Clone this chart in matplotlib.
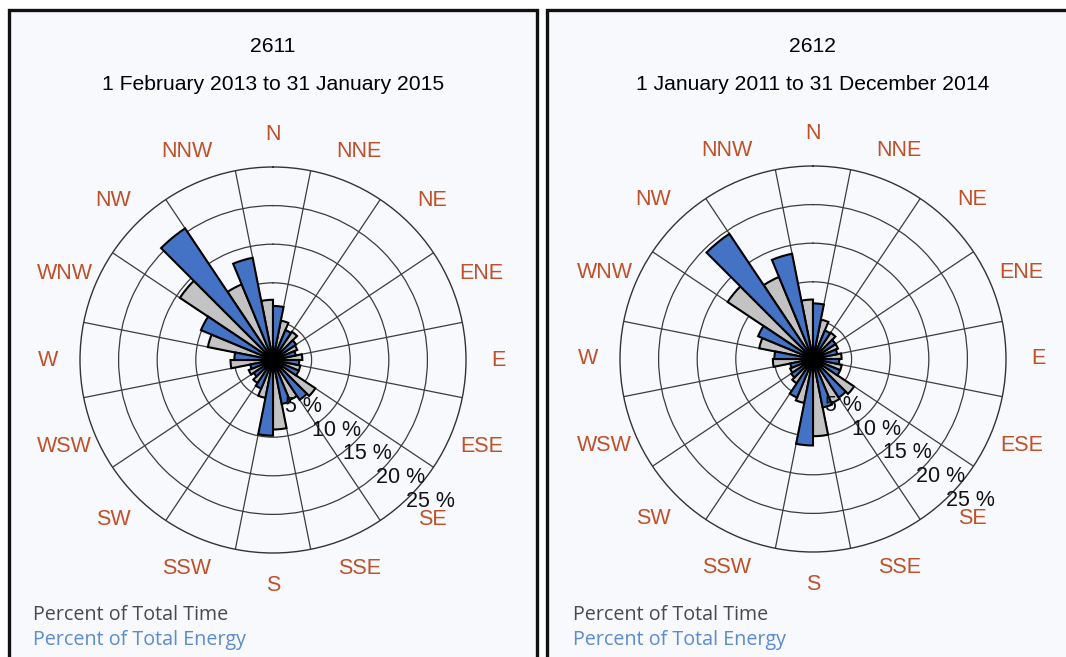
import numpy as np
import matplotlib.pyplot as plt
from matplotlib.patches import Rectangle

# ------------------------------------------------------------
# wind rose data (percent)
# ------------------------------------------------------------
directions = ["N", "NNE", "NE", "ENE", "E", "ESE", "SE", "SSE",
              "S", "SSW", "SW", "WSW", "W", "WNW", "NW", "NNW"]

time_2611 = [7.8, 5.2, 4.4, 3.4, 3.8, 3.6, 6.6, 5.6,
             9.0, 5.0, 3.6, 3.4, 5.5, 8.6, 14.5, 10.6]
energy_2611 = [7.0, 4.2, 3.6, 3.0, 3.4, 3.6, 6.2, 5.8,
               9.8, 4.0, 3.0, 3.0, 5.0, 10.1, 20.5, 13.5]

time_2612 = [7.7, 5.2, 4.1, 3.5, 3.7, 3.8, 6.4, 6.2,
             10.0, 5.8, 3.8, 3.2, 5.2, 7.1, 13.3, 11.5]
energy_2612 = [7.2, 4.0, 3.5, 3.2, 3.4, 3.8, 6.0, 6.4,
               11.2, 5.4, 3.4, 3.0, 5.0, 7.7, 19.5, 13.9]

stations = ["2611", "2612"]
periods = ["1 February 2013 to 31 January 2015",
           "1 January 2011 to 31 December 2014"]

ring_values = [5, 10, 15, 20, 25]
ring_labels = ["5 %", "10 %", "15 %", "20 %", "25 %"]

GREY = "#c3c3c3"
BLUE = "#4472c4"
LABEL_RED = "#c0502a"
BG = "#f7f9fc"

W, H = 1066, 657
fig = plt.figure(figsize=(W / 100, H / 100), dpi=100)
fig.patch.set_facecolor("white")

# panel frames (left one fully visible, right one runs off the edge)
panels = [(9, 537), (547, 1075)]
for x0, x1 in panels:
    fig.add_artist(Rectangle((x0 / W, -0.05), (x1 - x0) / W, 1.05 - 10 / H,
                             transform=fig.transFigure, facecolor=BG,
                             edgecolor="#111111", linewidth=2.4, zorder=0))


def draw_rose(cx, cy, times, energies, station, period, legend_x):
    R = 193
    ax = fig.add_axes([(cx - R) / W, (H - cy - R) / H, 2 * R / W, 2 * R / H],
                      projection="polar")
    ax.set_facecolor("none")
    ax.set_theta_zero_location("N")
    ax.set_theta_direction(-1)

    step = 360 / len(directions)
    centres = np.deg2rad(np.arange(len(directions)) * step)
    half = np.deg2rad(step / 2)

    ax.bar(centres - half, times, width=half, align="edge",
           color=GREY, edgecolor="black", linewidth=1.5, zorder=3)
    ax.bar(centres, energies, width=half, align="edge",
           color=BLUE, edgecolor="black", linewidth=1.5, zorder=3)

    # dark hub where all the outlines meet
    hub = np.linspace(0, 2 * np.pi, 90)
    ax.fill(hub, np.full_like(hub, 1.4), color="black", zorder=4)

    ax.set_ylim(0, 25)
    ax.set_rgrids(ring_values[:-1], labels=[])
    ax.set_thetagrids(np.arange(step / 2, 360, step), labels=[])
    ax.grid(True, color="#3c3c3c", linewidth=0.9)
    ax.spines["polar"].set_color("#333333")
    ax.spines["polar"].set_linewidth(1.0)
    ax.set_axisbelow(True)

    for i, name in enumerate(directions):
        ax.text(centres[i], 29.2, name, ha="center", va="center",
                color=LABEL_RED, fontsize=15.5, family="Liberation Sans")

    label_angles = [147, 138, 135, 132.6, 132]
    label_r = [7.2, 12.3, 17.2, 22.5, 27.4]
    for a, r, txt in zip(label_angles, label_r, ring_labels):
        ax.text(np.deg2rad(a), r, txt, ha="center", va="center",
                color="#111111", fontsize=15.5, family="Liberation Sans",
                zorder=5)

    fig.text(cx / W, 1 - 47 / H, station, ha="center", va="center",
             fontsize=15.2, family="Liberation Sans")
    fig.text(cx / W, 1 - 85 / H, period, ha="center", va="center",
             fontsize=15.2, family="Liberation Sans")

    fig.text(legend_x / W, 1 - 615 / H, "Percent of Total Time",
             ha="left", va="center", fontsize=14.2, color="#4a4a4a",
             family="Open Sans")
    fig.text(legend_x / W, 1 - 640 / H, "Percent of Total Energy",
             ha="left", va="center", fontsize=14.2, color="#5b8bd0",
             family="Open Sans")


draw_rose(273, 360, time_2611, energy_2611, stations[0], periods[0], 33)
draw_rose(813, 359, time_2612, energy_2612, stations[1], periods[1], 573)

fig.savefig("out.png", dpi=100, facecolor=fig.get_facecolor())
